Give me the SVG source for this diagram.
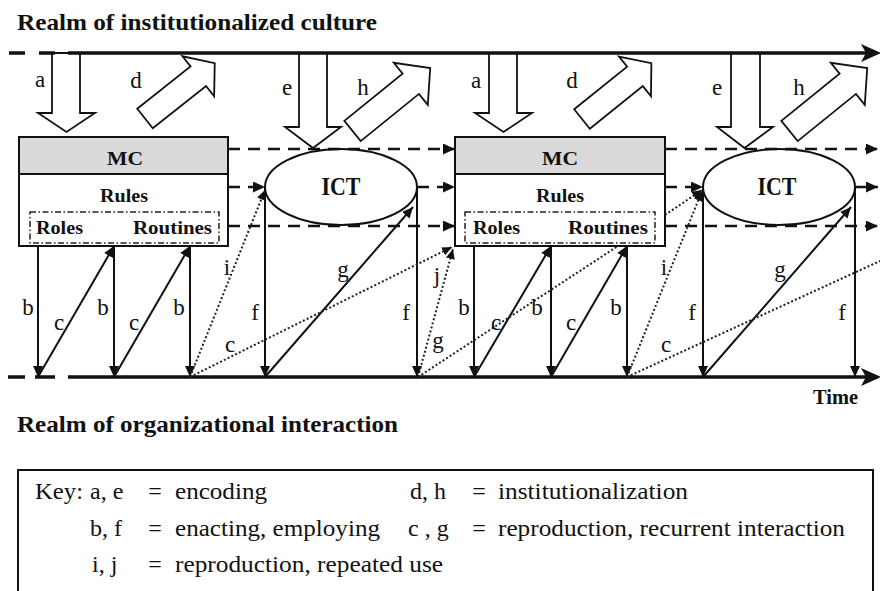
<svg xmlns="http://www.w3.org/2000/svg" width="880" height="591" viewBox="0 0 880 591">
  <defs>
    <marker id="headL" viewBox="0 0 12 11" refX="12" refY="5.5" markerWidth="12" markerHeight="11" markerUnits="userSpaceOnUse" orient="auto">
      <path d="M0,0 L12,5.5 L0,11 z" fill="#111"/>
    </marker>
    <marker id="head" viewBox="0 0 11 10" refX="11" refY="5" markerWidth="11" markerHeight="10" markerUnits="userSpaceOnUse" orient="auto">
      <path d="M0,0 L11,5 L0,10 z" fill="#111"/>
    </marker>
    <marker id="headS" viewBox="0 0 10 9" refX="10" refY="4.5" markerWidth="10" markerHeight="9" markerUnits="userSpaceOnUse" orient="auto">
      <path d="M0,0 L10,4.5 L0,9 z" fill="#111"/>
    </marker>
    <!-- diagonal block arrows (institutionalization), drawn pointing along +x -->
    <polygon id="diagD" points="0,-12.5 68,-12.5 68,-25.5 89,0 68,25.5 68,12.5 0,12.5"/>
    <polygon id="diagH" points="0,-13 75,-13 75,-27 100,0 75,27 75,13 0,13"/>
  </defs>

  <rect x="0" y="0" width="880" height="591" fill="#ffffff"/>

  <!-- realm headings -->
  <g fill="#111" font-weight="bold" font-family="Liberation Serif">
    <text font-family="Liberation Serif" font-size="23" x="17" y="30" textLength="360" lengthAdjust="spacingAndGlyphs">Realm of institutionalized culture</text>
    <text font-family="Liberation Serif" font-size="23" x="17" y="432" textLength="381" lengthAdjust="spacingAndGlyphs">Realm of organizational interaction</text>
    <text font-family="Liberation Serif" font-size="20" x="813" y="404" textLength="45" lengthAdjust="spacingAndGlyphs">Time</text>
  </g>

  <!-- block arrows and time axes -->
  <g id="axes">
    <g fill="#ffffff" stroke="#111" stroke-width="1.8">
      <polygon points="52,53 52,113 38,113 66.5,132 95,113 80,113 80,53"/>
      <polygon points="489,53 489,113 475,113 503.5,132 532,113 517,113 517,53"/>
      <polygon points="299,53 299,127 285,127 313,148 341,127 327,127 327,53"/>
      <polygon points="731,53 731,127 717,127 744.5,148 773,127 760,127 760,53"/>
      <use href="#diagD" transform="translate(145,118.5) rotate(-38.4)"/>
      <use href="#diagD" transform="translate(582,119) rotate(-38.8)"/>
      <use href="#diagH" transform="translate(352.5,131) rotate(-39)"/>
      <use href="#diagH" transform="translate(789.5,131) rotate(-39)"/>
    </g>
    <g fill="none" stroke="#111" stroke-width="3.5">
      <path d="M9,53 H25 M39,53 H55 M68,53 H866"/>
      <path d="M8,377 H25 M35,377 H55 M68,377 H866"/>
    </g>
    <path d="M881,53 L861,44 L866,53 L861,62 z" fill="#111"/>
    <path d="M881,377 L861,368 L866,377 L861,386 z" fill="#111"/>
  </g>

  <!-- nodes -->
  <g id="mc1">
    <rect x="19" y="137" width="209" height="109" fill="#ffffff" stroke="#111" stroke-width="2"/>
    <rect x="19" y="137" width="209" height="37" fill="#d9d9d9" stroke="#111" stroke-width="2"/>
    <rect x="30" y="212" width="189" height="31" fill="none" stroke="#222" stroke-width="1.5" stroke-dasharray="6 2.5 1.5 2.5"/>
    <g fill="#111" font-weight="bold" font-size="19" font-family="Liberation Serif">
      <text font-family="Liberation Serif" x="125" y="165" text-anchor="middle" textLength="36" lengthAdjust="spacingAndGlyphs">MC</text>
      <text font-family="Liberation Serif" x="124" y="202" text-anchor="middle" textLength="48" lengthAdjust="spacingAndGlyphs">Rules</text>
      <text font-family="Liberation Serif" x="36" y="234" textLength="47" lengthAdjust="spacingAndGlyphs">Roles</text>
      <text font-family="Liberation Serif" x="133" y="234" textLength="79" lengthAdjust="spacingAndGlyphs">Routines</text>
    </g>
  </g>
  <g id="ict1">
    <ellipse cx="341" cy="187" rx="76" ry="38" fill="#ffffff" stroke="#111" stroke-width="2"/>
    <text font-family="Liberation Serif" fill="#111" font-weight="bold" font-size="25" x="341" y="195" text-anchor="middle" textLength="39" lengthAdjust="spacingAndGlyphs">ICT</text>
  </g>
  <g id="mc2">
    <rect x="455" y="137" width="210" height="109" fill="#ffffff" stroke="#111" stroke-width="2"/>
    <rect x="455" y="137" width="210" height="37" fill="#d9d9d9" stroke="#111" stroke-width="2"/>
    <rect x="465" y="212" width="190" height="31" fill="none" stroke="#222" stroke-width="1.5" stroke-dasharray="6 2.5 1.5 2.5"/>
    <g fill="#111" font-weight="bold" font-size="19" font-family="Liberation Serif">
      <text font-family="Liberation Serif" x="560" y="165" text-anchor="middle" textLength="36" lengthAdjust="spacingAndGlyphs">MC</text>
      <text font-family="Liberation Serif" x="560" y="202" text-anchor="middle" textLength="48" lengthAdjust="spacingAndGlyphs">Rules</text>
      <text font-family="Liberation Serif" x="473" y="234" textLength="47" lengthAdjust="spacingAndGlyphs">Roles</text>
      <text font-family="Liberation Serif" x="568" y="234" textLength="80" lengthAdjust="spacingAndGlyphs">Routines</text>
    </g>
  </g>
  <g id="ict2">
    <ellipse cx="779" cy="187" rx="76" ry="38" fill="#ffffff" stroke="#111" stroke-width="2"/>
    <text font-family="Liberation Serif" fill="#111" font-weight="bold" font-size="25" x="777" y="195" text-anchor="middle" textLength="39" lengthAdjust="spacingAndGlyphs">ICT</text>
  </g>

  <!-- connectors -->
  <g id="connectors" fill="none">
    <!-- dashed carry-over between structures -->
    <g stroke="#111" stroke-width="2.5" stroke-dasharray="12 8" marker-end="url(#headL)">
      <path d="M228,149 H455"/>
      <path d="M228,187 H265"/>
      <path d="M417,187 H455"/>
      <path d="M228,226 H455"/>
      <path d="M665,149 H878"/>
      <path d="M665,187 H703"/>
      <path d="M855,187 H878"/>
      <path d="M665,226 H878"/>
    </g>

    <g stroke="#111" stroke-width="2" marker-end="url(#head)">
      <!-- b / f : enacting, employing -->
      <path d="M38,246 V377"/>
      <path d="M114,246 V377"/>
      <path d="M190,246 V377"/>
      <path d="M265,187 V377"/>
      <path d="M417,187 V377"/>
      <path d="M474,246 V377"/>
      <path d="M551,246 V377"/>
      <path d="M627,246 V377"/>
      <path d="M703,187 V377"/>
      <path d="M855,187 V377"/>
      <!-- c / g : reproduction, recurrent interaction -->
      <path d="M38,377 L114,246"/>
      <path d="M114,377 L190,246"/>
      <path d="M265,377 L413,207"/>
      <path d="M474,377 L551,246"/>
      <path d="M551,377 L627,246"/>
      <path d="M703,377 L851,207"/>
    </g>

    <!-- dotted: i, j, long-range c, g -->
    <g stroke="#222" stroke-width="2" stroke-dasharray="2 2.2">
      <g marker-end="url(#headS)">
        <path d="M190,377 L265,190"/>
        <path d="M190,377 L452,247"/>
        <path d="M418,377 L453,249"/>
        <path d="M418,377 L618,246 M665,215 L702,190"/>
        <path d="M627,377 L702,191"/>
      </g>
      <path d="M627,377 L880,261"/>
    </g>
  </g>

  <!-- connector labels -->
  <g id="labels" fill="#111" font-size="23" text-anchor="middle" font-family="Liberation Serif">
    <text font-family="Liberation Serif" x="40" y="87">a</text>
    <text font-family="Liberation Serif" x="136" y="88">d</text>
    <text font-family="Liberation Serif" x="287" y="95">e</text>
    <text font-family="Liberation Serif" x="363" y="95">h</text>
    <text font-family="Liberation Serif" x="476" y="88">a</text>
    <text font-family="Liberation Serif" x="572" y="88">d</text>
    <text font-family="Liberation Serif" x="717" y="95">e</text>
    <text font-family="Liberation Serif" x="799" y="95">h</text>

    <text font-family="Liberation Serif" x="28" y="315">b</text>
    <text font-family="Liberation Serif" x="59" y="330">c</text>
    <text font-family="Liberation Serif" x="103" y="315">b</text>
    <text font-family="Liberation Serif" x="134" y="330">c</text>
    <text font-family="Liberation Serif" x="179" y="315">b</text>
    <text font-family="Liberation Serif" x="227" y="275">i</text>
    <text font-family="Liberation Serif" x="255" y="320">f</text>
    <text font-family="Liberation Serif" x="230" y="352">c</text>
    <text font-family="Liberation Serif" x="343" y="277">g</text>
    <text font-family="Liberation Serif" x="406" y="320">f</text>
    <text font-family="Liberation Serif" x="437" y="283">j</text>
    <text font-family="Liberation Serif" x="438" y="348">g</text>

    <text font-family="Liberation Serif" x="464" y="315">b</text>
    <text font-family="Liberation Serif" x="496" y="330">c</text>
    <text font-family="Liberation Serif" x="537" y="315">b</text>
    <text font-family="Liberation Serif" x="571" y="330">c</text>
    <text font-family="Liberation Serif" x="616" y="315">b</text>
    <text font-family="Liberation Serif" x="664" y="275">i</text>
    <text font-family="Liberation Serif" x="692" y="320">f</text>
    <text font-family="Liberation Serif" x="666" y="352">c</text>
    <text font-family="Liberation Serif" x="780" y="277">g</text>
    <text font-family="Liberation Serif" x="842" y="320">f</text>
  </g>

  <!-- key -->
  <g id="key">
    <rect x="18" y="470" width="855" height="140" fill="none" stroke="#111" stroke-width="2"/>
    <g fill="#111" font-size="24" font-family="Liberation Serif">
      <text font-family="Liberation Serif" x="35" y="499" textLength="48" lengthAdjust="spacingAndGlyphs">Key:</text>
      <text font-family="Liberation Serif" x="90" y="499">a, e</text>
      <text font-family="Liberation Serif" x="155" y="499" text-anchor="middle">=</text>
      <text font-family="Liberation Serif" x="175" y="499" textLength="92" lengthAdjust="spacingAndGlyphs">encoding</text>
      <text font-family="Liberation Serif" x="410" y="499">d, h</text>
      <text font-family="Liberation Serif" x="479" y="499" text-anchor="middle">=</text>
      <text font-family="Liberation Serif" x="498" y="499" textLength="190" lengthAdjust="spacingAndGlyphs">institutionalization</text>

      <text font-family="Liberation Serif" x="90" y="536">b, f</text>
      <text font-family="Liberation Serif" x="155" y="536" text-anchor="middle">=</text>
      <text font-family="Liberation Serif" x="175" y="536" textLength="205" lengthAdjust="spacingAndGlyphs">enacting, employing</text>
      <text font-family="Liberation Serif" x="408" y="536">c , g</text>
      <text font-family="Liberation Serif" x="479" y="536" text-anchor="middle">=</text>
      <text font-family="Liberation Serif" x="498" y="536" textLength="347" lengthAdjust="spacingAndGlyphs">reproduction, recurrent interaction</text>

      <text font-family="Liberation Serif" x="92" y="572">i, j</text>
      <text font-family="Liberation Serif" x="155" y="572" text-anchor="middle">=</text>
      <text font-family="Liberation Serif" x="175" y="572" textLength="268" lengthAdjust="spacingAndGlyphs">reproduction, repeated use</text>
    </g>
  </g>
</svg>
